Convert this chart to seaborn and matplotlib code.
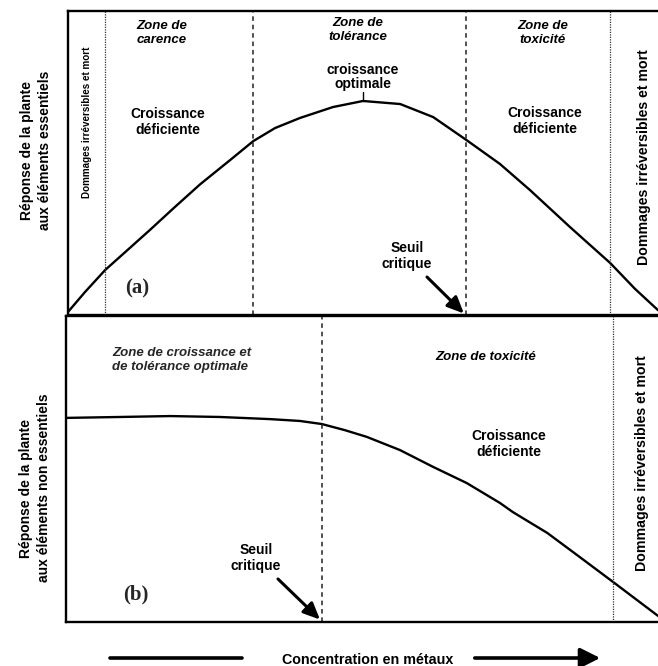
import matplotlib
matplotlib.use("Agg")
import matplotlib.pyplot as plt
import seaborn as sns
import pandas as pd

# Response curve for essential elements (concentration 0-100, response 0-100)
conc_a = [0, 2.9, 6.3, 9.7, 13.9, 18.1, 22.4, 27.5, 31.4, 35.1, 39.3, 44.9,
          50.0, 56.3, 61.9, 67.5, 73.2, 78.3, 85.1, 91.9, 96.1, 100]
resp_a = [1.0, 7.6, 14.8, 20.7, 28.0, 35.5, 43.0, 51.0, 57.2, 61.5, 64.8, 68.4,
          70.4, 69.4, 65.1, 57.6, 49.7, 41.1, 28.9, 17.1, 8.6, 1.6]
# Zone limits for essential elements
limits_a = [6.3, 31.4, 67.5, 91.9]
optimum_a = 50.0
critical_a = 67.5

# Response curve for non-essential elements
conc_b = [0, 9.1, 17.6, 26.0, 34.5, 39.5, 43.2, 47.1, 50.8, 56.4, 62.0, 67.7,
          73.3, 75.5, 81.3, 86.8, 92.4, 100]
resp_b = [66.7, 67.0, 67.3, 67.0, 66.3, 65.7, 64.7, 62.7, 60.5, 56.2, 50.7,
          45.4, 38.9, 35.9, 29.1, 21.2, 13.1, 2.0]
limits_b = [43.2, 92.4]
critical_b = 43.2

sns.set_style("white")
plt.rcParams["font.family"] = ["Liberation Sans", "DejaVu Sans"]

W, H = 658, 666
fig = plt.figure(figsize=(W / 100, H / 100), dpi=100)


def rect(x0, y0, x1, y1):
    return [x0 / W, 1 - y1 / H, (x1 - x0) / W, (y1 - y0) / H]


def fpos(x, y):
    return x / W, 1 - y / H


ax_a = fig.add_axes(rect(68, 11, 658, 315))
ax_b = fig.add_axes(rect(66, 316, 658, 622))

df_a = pd.DataFrame({"c": conc_a, "r": resp_a})
df_b = pd.DataFrame({"c": conc_b, "r": resp_b})
sns.lineplot(data=df_a, x="c", y="r", ax=ax_a, color="black", lw=1.7,
             sort=False)
sns.lineplot(data=df_b, x="c", y="r", ax=ax_b, color="black", lw=1.7,
             sort=False)

for ax in (ax_a, ax_b):
    ax.set_xlim(0, 100)
    ax.set_ylim(0, 100)
    ax.set_xticks([])
    ax.set_yticks([])
    ax.set_xlabel("")
    ax.set_ylabel("")
    for s in ("left", "top", "bottom"):
        ax.spines[s].set_visible(True)
        ax.spines[s].set_color("black")
        ax.spines[s].set_linewidth(1.7)
    ax.spines["right"].set_visible(False)

fine = dict(color="#333333", lw=0.9, linestyle=(0, (1, 1)))
dashed = dict(color="#222222", lw=1.1, linestyle=(0, (3, 2.5)))
ax_a.axvline(limits_a[0], **fine)
ax_a.axvline(limits_a[1], **dashed)
ax_a.axvline(limits_a[2], **dashed)
ax_a.axvline(limits_a[3], **fine)
ax_b.axvline(limits_b[0], **dashed)
ax_b.axvline(limits_b[1], **fine)

# tick marking the optimum
ax_a.plot([optimum_a, optimum_a], [resp_a[conc_a.index(optimum_a)], 73.4],
          color="black", lw=1.0)

bold = dict(fontweight="bold", color="black", ha="center", va="center")
ital = dict(fontweight="bold", fontstyle="italic", color="black",
            ha="center", va="center")
fs = 10
fi = 9.5
arrow_kw = dict(arrowstyle="-|>,head_length=1.0,head_width=0.45",
                color="black", lw=2.2, shrinkA=0, shrinkB=0)

# Panel (a) texts
fig.text(*fpos(162, 33), "Zone de\ncarence", fontsize=fi, linespacing=1.15, **ital)
fig.text(*fpos(358, 30), "Zone de\ntolérance", fontsize=fi, linespacing=1.15, **ital)
fig.text(*fpos(543, 33), "Zone de\ntoxicité", fontsize=fi, linespacing=1.15, **ital)
fig.text(*fpos(168, 122), "Croissance\ndéficiente", fontsize=fs, linespacing=1.2, **bold)
fig.text(*fpos(545, 121), "Croissance\ndéficiente", fontsize=fs, linespacing=1.2, **bold)
fig.text(*fpos(363, 77), "croissance\noptimale", fontsize=fs, linespacing=1.05, **bold)
fig.text(*fpos(87, 122), "Dommages irréversibles et mort", fontsize=7.1,
         rotation=90, **bold)
fig.text(*fpos(644, 157), "Dommages irréversibles et mort", fontsize=10.2,
         rotation=90, **bold)
fig.text(*fpos(137, 288), "(a)", fontsize=15, family="Liberation Serif",
         fontweight="bold", ha="center", va="center")
fig.text(*fpos(407, 256), "Seuil\ncritique", fontsize=fs, linespacing=1.2, **bold)
ax_a.annotate("", xy=(critical_a - 0.4, 0.5),
              xytext=fpos(427, 277), textcoords="figure fraction",
              arrowprops=arrow_kw)

# Panel (b) texts
fig.text(*fpos(112, 360), "Zone de croissance et\nde tolérance optimale",
         fontsize=fi, linespacing=1.2, fontweight="bold", fontstyle="italic",
         ha="left", va="center")
fig.text(*fpos(486, 357), "Zone de toxicité", fontsize=fi, **ital)
fig.text(*fpos(509, 444), "Croissance\ndéficiente", fontsize=fs, linespacing=1.2, **bold)
fig.text(*fpos(642, 463), "Dommages irréversibles et mort", fontsize=10.2,
         rotation=90, **bold)
fig.text(*fpos(136, 594), "(b)", fontsize=15, family="Liberation Serif",
         fontweight="bold", ha="center", va="center")
fig.text(*fpos(256, 558), "Seuil\ncritique", fontsize=fs, linespacing=1.2, **bold)
ax_b.annotate("", xy=(critical_b - 0.3, 0.8),
              xytext=fpos(278, 579), textcoords="figure fraction",
              arrowprops=arrow_kw)

# Axis titles
fig.text(*fpos(36, 150), "Réponse de la plante\naux éléments essentiels",
         fontsize=10, rotation=90, linespacing=1.3, **bold)
fig.text(*fpos(35, 488), "Réponse de la plante\naux éléments non essentiels",
         fontsize=10, rotation=90, linespacing=1.3, **bold)

# Concentration axis with arrow
fig.text(*fpos(368, 660), "Concentration en métaux", fontsize=10.3, **bold)
fig.add_artist(plt.Line2D([110 / W, 242 / W], [1 - 658 / H, 1 - 658 / H],
                          color="black", lw=2.6, transform=fig.transFigure))
fig.add_artist(matplotlib.patches.FancyArrowPatch(
    fpos(472, 658), fpos(603, 658), transform=fig.transFigure,
    arrowstyle="-|>,head_length=1.2,head_width=0.6", color="black", lw=2.6,
    mutation_scale=10))

fig.savefig("out.png", dpi=100, facecolor="white")
